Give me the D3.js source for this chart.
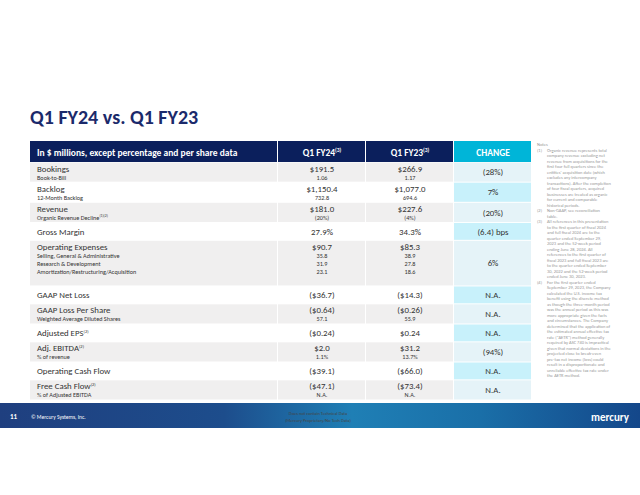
<!DOCTYPE html>
<html><head><meta charset="utf-8">
<script src="https://cdn.jsdelivr.net/npm/d3@7"></script>
<style>body{margin:0;background:#fff}svg{display:block;font-family:Calibri,Carlito,Lato,sans-serif}</style>
</head><body>
<svg id="c" width="640" height="495"></svg>
<script>
// Table data
const labels = ["Bookings","Backlog","Revenue","Gross Margin","Operating Expenses","GAAP Net Loss","GAAP Loss Per Share","Adjusted EPS","Adj. EBITDA","Operating Cash Flow","Free Cash Flow"];
const labelSups = ["","","","","","","","(2)","(2)","","(2)"];
const subLabels = [["Book-to-Bill"],["12-Month Backlog"],["Organic Revenue Decline"],[],["Selling, General & Administrative","Research & Development","Amortization/Restructuring/Acquisition"],[],["Weighted Average Diluted Shares"],[],["% of revenue"],[],["% of Adjusted EBITDA"]];
const subSups = ["","","(1)(2)","","","","","","","",""];
const fy24 = ["$191.5","$1,150.4","$181.0","27.9%","$90.7","($36.7)","($0.64)","($0.24)","$2.0","($39.1)","($47.1)"];
const fy24Sub = [["1.06"],["732.8"],["(20%)"],[],["35.8","31.9","23.1"],[],["57.1"],[],["1.1%"],[],["N.A."]];
const fy23 = ["$266.9","$1,077.0","$227.6","34.3%","$85.3","($14.3)","($0.26)","$0.24","$31.2","($66.0)","($73.4)"];
const fy23Sub = [["1.17"],["694.6"],["(4%)"],[],["38.9","27.8","18.6"],[],["55.9"],[],["13.7%"],[],["N.A."]];
const change = ["(28%)","7%","(20%)","(6.4) bps","6%","N.A.","N.A.","N.A.","(94%)","N.A.","N.A."];
const notes = ["Notes","(1)|Organic revenue represents total company revenue excluding net revenue from acquisitions for the first four full quarters since the entities' acquisition date (which excludes any intercompany transactions). After the completion of four fiscal quarters, acquired businesses are treated as organic for current and comparable historical periods.","(2)|Non-GAAP, see reconciliation table.","(3)|All references in this presentation to the first quarter of fiscal 2024 and full fiscal 2024 are to the quarter ended September 29, 2023 and the 52-week period ending June 28, 2024. All references to the first quarter of fiscal 2023 and full fiscal 2023 are to the quarter ended September 30, 2022 and the 52-week period ended June 30, 2023.","(4)|For the first quarter ended September 29, 2023, the Company calculated the U.S. income tax benefit using the discrete method as though the three-month period was the annual period as this was more appropriate given the facts and circumstances. The Company determined that the application of the estimated annual effective tax rate (\"AETR\") method generally required by ASC 740 is impractical given that normal deviations in the projected close to break-even pre-tax net income (loss) could result in a disproportionate and unreliable effective tax rate under the AETR method."];

const svg = d3.select("#c");
const navy = "#0b1f5c";
const MAIN = 8.8, SUB = 6.2;

svg.append("text").attr("x",30).attr("y",124).attr("font-size",20).attr("font-weight","bold")
  .attr("fill","#1b2a6b").text("Q1 FY24 vs. Q1 FY23");

const colX = [30,278,366,454,532];
const rowH = labels.map((d,i)=> subLabels[i].length===3 ? 46 : subLabels[i].length ? 20.3 : 18);
const y = d3.scaleLinear().domain([0,d3.sum(rowH)]).range([162,400]);
let acc = 0;
const rows = labels.map((d,i)=>{const r={i,y0:y(acc),y1:y(acc+rowH[i])};acc+=rowH[i];return r;});

// header
const head = ["In $ millions, except percentage and per share data","Q1 FY24","Q1 FY23","CHANGE"];
const headSup = ["","(3)","(3)",""];
head.forEach((h,j)=>{
  svg.append("rect").attr("x",colX[j]).attr("y",141).attr("width",colX[j+1]-colX[j]-1).attr("height",21)
    .attr("fill", j===3?"#00b5d8":navy);
  const t = svg.append("text").attr("y",155.5).attr("fill","#fff").attr("font-size",9.5).attr("font-weight","bold")
    .attr("x", j===0?37:(colX[j]+colX[j+1])/2).attr("text-anchor",j===0?"start":"middle").text(h);
  if(headSup[j]) t.append("tspan").attr("font-size",5.5).attr("dy",-4).text(headSup[j]);
});

const g = svg.selectAll("g.row").data(rows).join("g").attr("class","row");
g.each(function(r){
  const s = d3.select(this), i=r.i, shaded = i%2===0;
  for(let j=0;j<4;j++){
    s.append("rect").attr("x",colX[j]).attr("y",r.y0+0.5).attr("width",colX[j+1]-colX[j]-1).attr("height",r.y1-r.y0-1)
      .attr("fill", j===3 ? (shaded?"#e5f3f8":"#c8f1fb") : (shaded?"#f0efef":"#fff"));
  }
  const nSub = subLabels[i].length;
  const mainY = nSub ? r.y0+9.5 : (r.y0+r.y1)/2+3.2;
  const t = s.append("text").attr("x",37).attr("y",mainY).attr("font-size",MAIN).attr("fill","#333").text(labels[i]);
  if(labelSups[i]) t.append("tspan").attr("font-size",4.5).attr("dy",-3.5).text(labelSups[i]);
  subLabels[i].forEach((sl,k)=>{
    const st = s.append("text").attr("x",37).attr("y",mainY+8+k*8.3).attr("font-size",SUB).attr("fill","#333").text(sl);
    if(k===0&&subSups[i]) st.append("tspan").attr("font-size",3.8).attr("dy",-3).text(subSups[i]);
  });
  [[fy24,fy24Sub],[fy23,fy23Sub]].forEach(([m,sb],c)=>{
    const cx=(colX[c+1]+colX[c+2])/2;
    s.append("text").attr("x",cx).attr("y",mainY).attr("text-anchor","middle").attr("font-size",MAIN).attr("fill","#333").text(m[i]);
    sb[i].forEach((v,k)=>s.append("text").attr("x",cx).attr("y",mainY+8+k*8.3).attr("text-anchor","middle").attr("font-size",SUB).attr("fill","#333").text(v));
  });
  s.append("text").attr("x",(colX[3]+colX[4])/2).attr("y",(r.y0+r.y1)/2+3.2).attr("text-anchor","middle")
    .attr("font-size",MAIN).attr("fill","#333").text(change[i]);
});

// notes, wrapped by measured width
const NW = 64, NL = 5.5, NF = 4.5;
let ny = 146;
function noteLine(x,t){return svg.append("text").attr("x",x).attr("y",ny).attr("font-size",NF).attr("fill","#999").text(t);}
notes.forEach((n,i)=>{
  if(i===0){noteLine(537,n);ny+=NL;return;}
  const [num,body]=n.split("|");
  noteLine(537,num);
  let line="";
  let cur = noteLine(547,"");
  body.split(" ").forEach(w=>{
    const test=(line?line+" ":"")+w;
    cur.text(test);
    if(cur.node().getComputedTextLength()>NW && line){cur.text(line);ny+=NL;cur=noteLine(547,w);line=w;}
    else line=test;
  });
  ny+=NL;
});

// footer band
const defs = svg.append("defs");
const lg = defs.append("linearGradient").attr("id","fg");
[["0%","#1f3f7f"],["35%","#1d4d8c"],["55%","#1f7fb5"],["75%","#1a6fa8"],["100%","#14478a"]].forEach(([o,c])=>lg.append("stop").attr("offset",o).attr("stop-color",c));
svg.append("rect").attr("x",0).attr("y",403).attr("width",640).attr("height",25).attr("fill","url(#fg)");
svg.append("text").attr("x",10).attr("y",419).attr("font-size",7).attr("font-weight","bold").attr("fill","#fff").text("11");
svg.append("text").attr("x",31).attr("y",419).attr("font-size",5.5).attr("fill","#fff").text("© Mercury Systems, Inc.");
svg.append("text").attr("x",318).attr("y",415).attr("text-anchor","middle").attr("font-size",4.5).attr("fill","#444").text("Does not contain Technical Data");
svg.append("text").attr("x",318).attr("y",422).attr("text-anchor","middle").attr("font-size",4.5).attr("fill","#444").text("(Mercury Proprietary/No Tech Data)");
svg.append("text").attr("x",629).attr("y",421).attr("text-anchor","end").attr("font-size",11).attr("font-weight","bold").attr("fill","#fff").text("mercury");
</script>
</body></html>
